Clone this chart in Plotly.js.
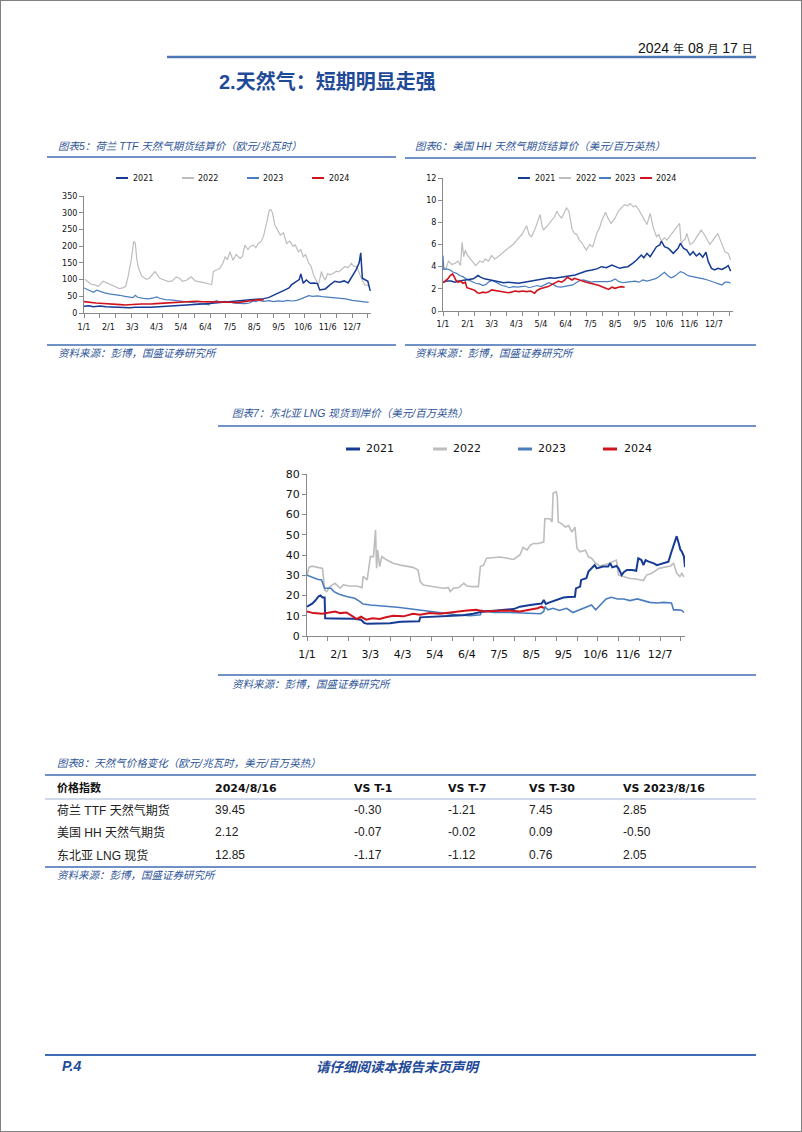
<!DOCTYPE html>
<html>
<head>
<meta charset="utf-8">
<script src="https://cdn.plot.ly/plotly-3.0.1.min.js"></script>
<style>
html,body{margin:0;padding:0;background:#fff;}
#chart{width:802px;height:1132px;}
</style>
</head>
<body>
<div id="chart"></div>
<script>
// ---------- tick labels (day of year) ----------
const tickDays = [0,31,61,92,123,154,185,216,247,278,309,340];
const tickLabels = ['1/1','2/1','3/3','4/3','5/4','6/4','7/5','8/5','9/5','10/6','11/6','12/7'];
const seriesNames = ['2021','2022','2023','2024'];

// ---------- Chart 5: TTF (EUR/MWh) ----------
const ttfDays2021 = [0,6,12,20,28,35,42,50,58,65,75,85,95,105,115,125,135,145,155,165,175,185,195,205,215,221,228,234,242,248,255,260,263,269,273,275,278,282,287,292,296,299,306,312,318,324,330,335,340,345,349,351,353,357,360,363];
const ttf2021 = [20,22,19,21,19,18,17,16,16,17,16,17,19,20,21,23,25,26,28,30,31,34,37,38,39,40,43,46,54,60,69,75,84,94,100,117,89,99,89,90,88,69,72,84,95,92,96,90,110,129,150,180,104,99,95,66];
const ttfDays2022 = [1,5,9,14,18,24,30,35,40,45,50,53,56,60,63,65,67,69,73,79,83,90,96,101,107,112,117,121,125,130,136,141,147,153,160,162,164,168,172,176,179,182,185,189,193,198,201,204,208,211,215,218,221,225,228,232,235,237,239,242,245,249,253,257,261,265,268,272,275,278,281,285,288,291,294,297,300,301,304,306,309,312,316,320,323,327,331,335,339,342,346,350,353,356,361];
const ttf2022 = [101,92,86,84,79,95,88,83,78,73,76,80,110,160,213,210,160,136,111,101,104,124,104,100,94,96,108,104,95,98,108,96,94,90,86,85,124,128,133,148,168,160,183,158,175,163,170,203,190,200,203,195,208,215,233,273,308,309,300,263,250,233,240,208,215,200,203,183,190,168,175,149,140,114,100,84,110,124,105,99,118,114,118,125,123,132,139,135,149,140,139,114,100,84,82];
const ttfDays2023 = [0,4,8,12,16,20,26,32,38,45,52,58,62,65,68,75,82,88,92,96,103,110,118,125,133,140,147,152,158,163,168,172,178,184,190,197,204,210,215,218,222,228,235,240,247,252,258,264,270,276,281,285,290,296,302,310,318,325,332,340,348,356,361];
const ttf2023 = [75,70,66,62,68,64,60,57,56,53,50,48,46,53,47,44,42,45,48,44,40,39,37,36,33,31,30,27,24,32,37,33,35,32,30,29,28,30,36,34,38,35,37,34,36,35,38,36,38,43,48,52,50,51,49,47,46,44,42,38,35,33,32];
const ttfDays2024 = [0,5,10,15,20,27,33,40,46,52,57,62,67,73,79,85,91,97,103,110,116,122,129,135,142,148,155,161,168,174,181,187,193,199,205,210,216,220,224,228];
const ttf2024 = [34,32,31,30,29,28,29,27,25,24,24,25,26,27,26,27,28,29,30,30,31,31,33,34,35,34,34,34,34,33,33,32,31,32,33,36,38,40,39,40];

// ---------- Chart 6: Henry Hub (USD/MMBtu) ----------
const hhDays2021 = [0,5,10,15,20,26,32,38,44,47,52,58,64,70,76,82,88,95,102,110,116,122,128,134,140,148,155,160,166,172,180,187,193,199,205,212,217,222,227,232,238,243,249,252,256,260,264,268,272,274,278,283,289,295,298,302,306,310,314,318,322,326,330,333,337,341,345,350,354,358,361];
const hh2021 = [2.6,2.7,2.7,2.6,2.7,2.75,2.85,2.9,3.2,3.05,2.9,2.8,2.7,2.6,2.55,2.6,2.55,2.5,2.6,2.7,2.8,2.9,2.95,3.0,2.95,3.05,3.1,3.2,3.25,3.4,3.6,3.7,3.8,4.0,3.9,4.15,4.0,3.85,3.95,4.0,4.3,4.6,5.05,4.8,5.2,4.9,5.35,5.8,5.96,6.3,5.8,5.65,5.2,5.65,6.1,5.65,5.5,5.05,5.35,4.96,5.2,4.85,5.3,4.45,3.85,3.7,3.85,3.75,3.9,4.1,3.6];
const hhDays2022 = [0,4,7,11,15,19,22,24,26,28,30,34,38,41,46,50,53,57,61,65,69,74,78,84,88,91,95,99,103,105,108,111,115,119,122,124,126,130,133,137,140,143,146,149,153,155,158,160,162,165,168,171,174,177,180,184,188,193,197,199,202,204,207,211,216,220,224,228,232,235,239,242,246,249,253,256,260,264,268,271,274,278,281,284,287,290,293,297,299,301,304,306,310,313,316,320,324,328,332,335,338,341,345,347,350,354,358,361];
const hh2022 = [3.8,3.9,4.5,4.2,4.3,4.5,4.1,6.2,4.9,5.5,5.1,4.7,4.4,4.1,4.5,4.4,4.7,4.5,5.0,4.7,4.9,5.2,5.5,5.8,6.0,6.3,6.6,6.9,7.4,7.7,6.9,6.7,7.3,8.1,8.7,7.8,7.3,7.6,7.9,8.2,8.5,9.0,8.6,8.4,9.1,9.3,9.0,8.2,7.4,7.0,6.9,6.4,6.2,5.8,5.5,6.0,5.8,7.0,7.6,8.1,8.6,8.9,8.4,7.9,8.4,9.0,9.3,9.6,9.5,9.7,9.4,9.5,9.1,8.7,8.2,7.8,8.8,7.5,6.7,6.9,6.3,6.6,6.4,6.7,7.0,7.2,7.5,7.9,6.0,6.3,6.5,7.0,6.0,6.1,6.4,6.8,7.3,6.9,6.4,6.0,6.3,6.6,7.0,6.6,6.1,5.35,5.2,4.6];
const hhDays2023 = [0,1,5,9,13,17,21,25,29,33,37,41,46,50,54,58,62,66,70,74,78,83,88,93,98,103,108,113,118,123,128,133,138,143,148,153,158,163,168,172,176,181,186,191,196,201,206,211,216,221,226,231,236,241,246,251,256,261,266,270,274,278,282,286,290,294,298,302,306,310,314,318,322,327,332,337,342,346,350,354,358,361];
const hh2023 = [5.0,3.75,3.8,3.7,3.5,3.4,3.2,3.1,2.9,2.75,2.6,2.5,2.45,2.3,2.4,2.65,2.75,2.6,2.4,2.3,2.25,2.1,2.2,2.15,2.2,2.25,2.1,2.2,2.3,2.2,2.35,2.55,2.4,2.2,2.15,2.2,2.3,2.35,2.6,2.75,2.8,2.7,2.6,2.65,2.65,2.6,2.65,2.7,2.9,2.65,2.55,2.6,2.65,2.7,2.6,2.8,2.7,2.8,2.9,3.05,3.3,3.5,3.2,3.0,3.1,3.3,3.55,3.45,3.25,3.15,3.1,3.0,2.95,2.9,2.8,2.7,2.55,2.45,2.35,2.6,2.6,2.5];
const hhDays2024 = [0,3,6,9,12,14,16,19,22,25,28,30,33,37,40,43,46,50,54,58,61,65,70,74,78,82,86,90,95,100,105,110,115,118,122,127,132,137,141,145,149,153,156,159,162,165,170,175,180,186,191,196,201,205,208,212,216,220,224,228];
const hh2024 = [2.55,2.7,2.9,3.2,3.35,3.1,2.8,2.6,2.7,2.5,2.6,2.1,2.05,1.95,1.85,1.65,1.6,1.7,1.65,1.75,1.9,1.85,1.8,1.7,1.7,1.65,1.7,1.8,1.75,1.8,1.75,1.8,1.6,1.85,2.0,2.1,2.2,2.4,2.55,2.7,2.6,2.8,3.05,2.9,2.8,2.95,2.8,2.7,2.6,2.5,2.35,2.3,2.15,2.0,1.95,2.15,2.05,2.15,2.2,2.15];

// ---------- Chart 7: NE Asia LNG (USD/MMBtu) ----------
const lngDays2021 = [0,2,5,8,11,13,15,17,17.5,25,35,45,52,55,58,70,80,90,100,108,109,120,135,150,160,168,180,190,199,205,210,215,222,226,228,230,233,240,247,252,258,259,263,264,269,271,274,277,279,285,290,292,294,298,300,303,305,308,313,317,319,322,324,326,329,334,337,342,348,351,354,356,358,359.5,361,363,364];
const lng2021 = [14.5,15,16,17.5,19.5,20,19,19,8.7,8.6,8.5,8.5,8,6.5,6,6,6.3,7,7,7.3,9.2,9.5,9.8,10.2,11,12,12.5,13,13.3,14.5,15,15.3,15.8,16,17.8,15.8,16.5,17.8,19,19.2,19.4,23.5,24.4,27.7,28.5,31.8,33.4,35,33.4,34.3,34.3,35.9,33.9,34.6,33.4,30.1,31.5,32.6,32.6,32.2,38.4,37.5,35,37.5,36.7,35.9,35,35.9,36.7,41.6,46.5,49.3,45.7,42.7,41.6,39.2,34];
const lngDays2022 = [0,2,5,10,15,17,19,22,27,32,35,41,48,53,54,58,61,64,66,67,68,70,72,77,83,90,96,102,107,109,112,118,125,131,136,138,141,146,151,154,159,165,167,170,173,186,199,205,208,212,215,218,223,228,229,234,236,237,240,241,242,245,249,252,255,258,260,263,268,271,274,278,282,289,294,298,300,305,310,318,324,327,332,339,343,350,353,356,359,361,363];
const lng2022 = [30,34,34.5,34,33.4,22.7,21.9,24.4,26,23.6,25.2,24.7,24.7,23.9,29.4,27.7,39.2,39.2,52.3,33.5,42.5,34.3,39.2,37.5,35.9,35,34.3,33.9,32.6,26.9,25.2,24.7,24.4,23.6,23.9,21.9,23.6,23.9,26,24.7,24.4,24.4,34.3,35,38.4,39,37.8,40,43.7,42.5,44.9,45.7,45.7,46.5,57.9,57.9,56.3,70.5,71.3,68.8,56.3,55.5,53.8,54.5,51.3,53.8,43.2,41.6,42.4,39.1,38.4,35.9,34.6,35.5,36.7,37.5,30.1,29.4,28.5,28,27.4,30.1,31,33.4,33.9,34.6,35.9,31,29.4,31,29.2];
const lngDays2023 = [0,5,10,14,16,17,19,23,26,31,39,46,51,54,61,70,77,87,95,106,119,131,144,157,167,168,180,195,210,225,228,229,232,237,243,250,256,263,270,274,278,281,284,288,293,299,305,311,318,324,330,337,343,351,353,358,361,363];
const lng2023 = [30,29.1,28,27.7,25.2,23.5,23.6,23.6,21.9,20.6,19.4,18.6,17,15.8,15.3,15,14.5,14.2,13.7,12.9,12.1,11.3,10.5,10,10.5,12.6,11.6,11.6,11.3,11,12.1,14.5,12.9,13.7,12.6,13.7,11.6,12.9,14.5,15.3,12.9,14.5,16.6,18.3,19.1,18.3,18.3,17.5,18.3,17.5,16.6,16.3,16.6,16.3,12.9,12.9,12.6,11.6];
const lngDays2024 = [0,6,15,22,27,32,38,44,48,52,57,63,70,76,83,93,102,109,118,128,137,144,154,163,170,180,192,205,215,222,226,228];
const lng2024 = [12.1,11.3,11,11.6,12.1,11.3,11.6,9.7,8.4,9.5,8.1,8.8,8.4,9.3,10,9.7,11,10.5,11.3,11,11.6,12.1,12.6,12.9,12.1,12.4,12.6,12.1,12.9,13.7,14.5,13.7];

// ---------- Table (图表8) ----------
const tblHeader = ['价格指数','2024/8/16','VS T-1','VS T-7','VS T-30','VS 2023/8/16'];
const tblNames = ['荷兰 TTF 天然气期货','美国 HH 天然气期货','东北亚 LNG 现货'];
const tblLatest = [39.45, 2.12, 12.85];
const tblVsT1 = [-0.30, -0.07, -1.17];
const tblVsT7 = [-1.21, -0.02, -1.12];
const tblVsT30 = [7.45, 0.09, 0.76];
const tblVsLastYear = [2.85, -0.50, 2.05];

// ---------- styling ----------
const W = 802, H = 1132;
const px = x => x / W;
const py = y => 1 - y / H;
const colors = {'2021':'#163B94','2022':'#BDBDBD','2023':'#4A7DBE','2024':'#D0141E'};
const capBlue = '#2F5597';
const lineBlue = '#3F6DB3';
const CJK = 'Noto Sans CJK SC';

const traces = [];
function addChart(xa, ya, daysList, valsList, widths) {
  // draw order: 2022, 2023, 2021, 2024
  const order = [1, 2, 0, 3];
  order.forEach(i => {
    traces.push({
      type: 'scatter', mode: 'lines',
      x: daysList[i], y: valsList[i],
      xaxis: xa, yaxis: ya, name: seriesNames[i], showlegend: false,
      line: {color: colors[seriesNames[i]], width: widths[i]},
      hoverinfo: 'skip'
    });
  });
}
addChart('x', 'y', [ttfDays2021, ttfDays2022, ttfDays2023, ttfDays2024], [ttf2021, ttf2022, ttf2023, ttf2024], [1.5, 1.2, 1.2, 1.6]);
addChart('x2', 'y2', [hhDays2021, hhDays2022, hhDays2023, hhDays2024], [hh2021, hh2022, hh2023, hh2024], [1.5, 1.2, 1.2, 1.6]);
addChart('x3', 'y3', [lngDays2021, lngDays2022, lngDays2023, lngDays2024], [lng2021, lng2022, lng2023, lng2024], [2, 1.6, 1.6, 2]);

const axisColor = '#8a8a8a';
function xAxis(domain, anchor, fs, standoff) {
  return {
    domain: domain, anchor: anchor, range: [0, 364],
    showline: true, linecolor: axisColor, linewidth: 1,
    showgrid: false, zeroline: false,
    tickmode: 'array', tickvals: tickDays, ticktext: tickLabels,
    ticks: '', ticklabelstandoff: standoff,
    minor: {ticks: 'outside', ticklen: 4, tickcolor: axisColor, tickwidth: 1, tick0: 0, dtick: 20, showgrid: false},
    tickfont: {family: 'DejaVu Sans', size: fs, color: '#111'},
    fixedrange: true
  };
}
function yAxis(domain, anchor, range, dtick, fs) {
  return {
    domain: domain, anchor: anchor, range: range, dtick: dtick, tick0: 0,
    showline: true, linecolor: axisColor, linewidth: 1,
    showgrid: false, zeroline: false,
    ticks: 'outside', ticklen: 4, tickcolor: axisColor,
    tickfont: {family: 'DejaVu Sans', size: fs, color: '#111'},
    fixedrange: true
  };
}

const shapes = [];
const annotations = [];
function hline(x0, x1, y, color, width) {
  shapes.push({type: 'line', xref: 'paper', yref: 'paper', x0: px(x0), x1: px(x1), y0: py(y), y1: py(y), line: {color: color, width: width}});
}
function text(x, y, t, font, anchor) {
  annotations.push({xref: 'paper', yref: 'paper', x: px(x), y: py(y), text: t, showarrow: false,
    xanchor: anchor || 'left', yanchor: 'middle', font: font});
}

// page border
shapes.push({type: 'rect', xref: 'paper', yref: 'paper', x0: 0, x1: 1, y0: 0, y1: 1, line: {color: '#808080', width: 2}});

// header
text(755, 48, '2024 <span style="font-size:11px">年</span> 08 <span style="font-size:11px">月</span> 17 <span style="font-size:11px">日</span>',
  {family: 'Liberation Sans Narrow, Liberation Sans, ' + CJK, size: 14, color: '#111'}, 'right');
hline(167, 756, 57, '#4F77B5', 2.5);
text(217, 82, '<b>2.天然气：短期明显走强</b>', {family: 'Liberation Sans, ' + CJK, size: 20, color: '#1F4A98'});

const capFont = {family: 'Liberation Sans, ' + CJK, size: 10.5, color: capBlue, style: 'italic'};
const srcText = '资料来源：彭博，国盛证券研究所';

// chart 5 frame
text(56, 146, '图表5：荷兰 TTF 天然气期货结算价（欧元/兆瓦时）', capFont);
hline(47, 396, 157, lineBlue, 1.5);
hline(47, 396, 345, lineBlue, 1.5);
text(56, 353, srcText, capFont);
// chart 6 frame
text(413, 146, '图表6：美国 HH 天然气期货结算价（美元/百万英热）', capFont);
hline(405, 756, 158, lineBlue, 1.5);
hline(405, 756, 345, lineBlue, 1.5);
text(413, 353, srcText, capFont);
// chart 7 frame
text(230, 413, '图表7：东北亚 LNG 现货到岸价（美元/百万英热）', capFont);
hline(218, 756, 426, lineBlue, 1.5);
hline(218, 756, 675, lineBlue, 1.5);
text(230, 684, srcText, capFont);

// legends
function legend(y, samples, textXs, fs, lw) {
  seriesNames.forEach((n, i) => {
    hline(samples[i][0], samples[i][1], y, colors[n], lw);
    text(textXs[i], y, n, {family: 'DejaVu Sans', size: fs, color: '#111'});
  });
}
legend(178, [[116,128],[182,194],[247,259],[312,324]], [131,196,261,327], 8, 2);
legend(178, [[518,530],[559,571],[599,611],[640,652]], [533,574,613,654], 8, 2);
legend(449, [[346,360],[433,447],[518,532],[603,617]], [364,451,536,622], 11, 3);

// table
text(55, 763, '图表8：天然气价格变化（欧元/兆瓦时，美元/百万英热）', capFont);
hline(45, 756, 775, lineBlue, 1.5);
const colX = [55, 213, 352, 446, 527, 621];
tblHeader.forEach((h, i) => {
  text(colX[i], 788, '<b>' + h + '</b>', {family: 'DejaVu Sans, ' + CJK, size: 11, color: '#111'});
});
hline(45, 756, 799, '#9FB3D3', 1);
const rowY = [810, 832, 855];
const fmt = v => v.toFixed(2);
tblNames.forEach((nm, r) => {
  const rowFont = {family: 'Liberation Sans, ' + CJK, size: 12, color: '#222'};
  text(colX[0], rowY[r], nm, rowFont);
  [tblLatest, tblVsT1, tblVsT7, tblVsT30, tblVsLastYear].forEach((arr, c) => {
    text(colX[c + 1], rowY[r], fmt(arr[r]), rowFont);
  });
});
hline(45, 756, 867, lineBlue, 1.5);
text(55, 875, srcText, capFont);

// footer
hline(45, 756, 1055, '#3F6DB3', 2);
text(60, 1066, '<b>P.4</b>', {family: 'Liberation Sans, ' + CJK, size: 14, color: '#1F4A98', style: 'italic'});
text(398, 1066, '<b>请仔细阅读本报告末页声明</b>', {family: CJK, size: 13.5, color: '#1F4A98', style: 'italic'}, 'center');

const layout = {
  width: W, height: H,
  margin: {l: 0, r: 0, t: 0, b: 0},
  paper_bgcolor: '#ffffff', plot_bgcolor: 'rgba(0,0,0,0)',
  showlegend: false,
  xaxis: xAxis([px(84), px(371)], 'y', 8, 6),
  yaxis: yAxis([py(313), py(196)], 'x', [0, 350], 50, 8),
  xaxis2: xAxis([px(443), px(733)], 'y2', 8, 5),
  yaxis2: yAxis([py(311), py(178)], 'x2', [0, 12], 2, 8),
  xaxis3: xAxis([px(307), px(685)], 'y3', 11, 8),
  yaxis3: yAxis([py(636), py(474)], 'x3', [0, 80], 10, 11),
  shapes: shapes,
  annotations: annotations
};

Plotly.newPlot('chart', traces, layout, {staticPlot: true, displayModeBar: false});
</script>
</body>
</html>
